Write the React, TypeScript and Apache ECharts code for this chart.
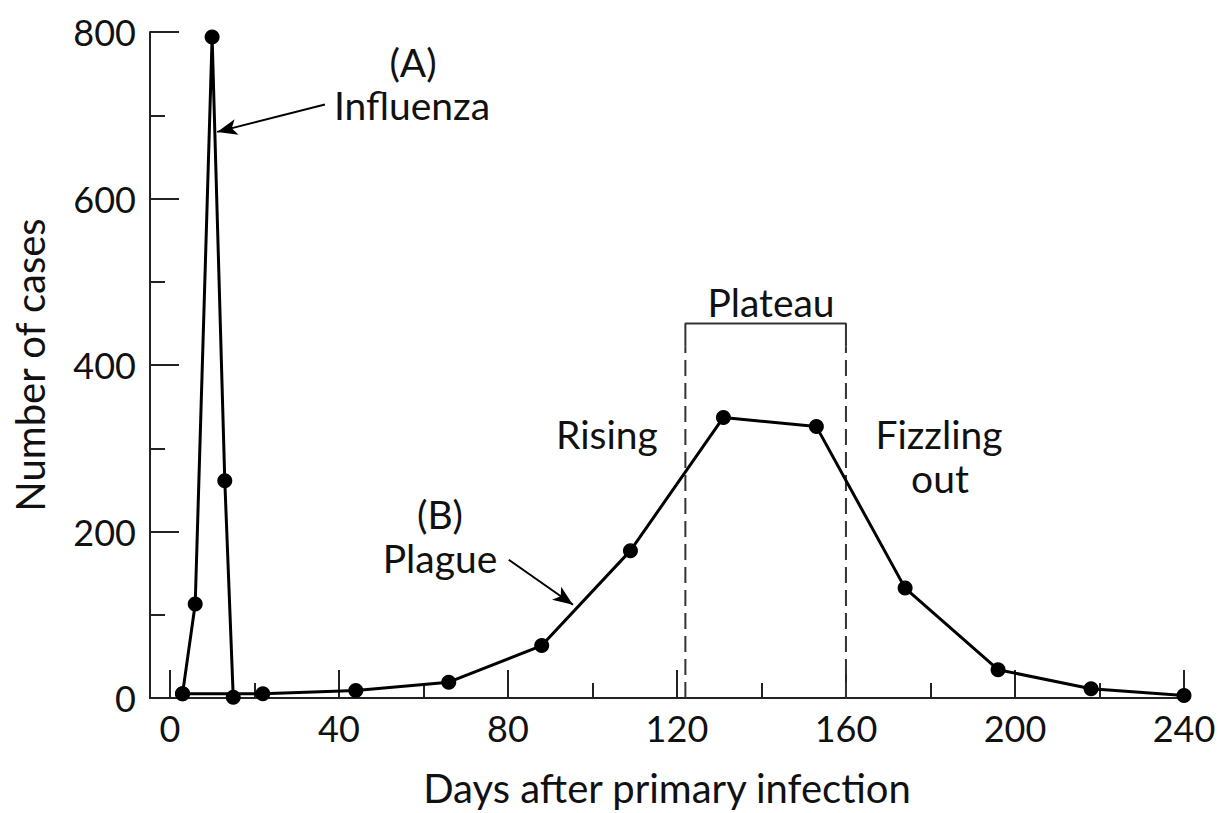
import React, { useEffect, useRef } from "react";
import * as echarts from "echarts";

const FONT = "Lato";

const fluDays = [3, 6, 10, 13, 15];
const fluCases = [5, 113, 794, 261, 1];

const plagueDays = [3, 22, 44, 66, 88, 109, 131, 153, 174, 196, 218, 240];
const plagueCases = [5, 5, 9, 19, 63, 177, 337, 326, 132, 34, 11, 3];

const xMajorTicks = [0, 40, 80, 120, 160, 200, 240];
const xMinorTicks = [20, 60, 100, 140, 180, 220];
const yMajorTicks = [0, 200, 400, 600, 800];
const yMinorTicks = [100, 300, 500, 700];

const plateauStart = 122;
const plateauEnd = 160;
const plateauTop = 450;
const plateauSolidFrom = 422;

const fluArrow = { from: [36.7, 713], to: [11.2, 680] };
const plagueArrow = { from: [80.2, 166], to: [95.4, 112] };

export default function App() {
  const ref = useRef<HTMLDivElement>(null);
  useEffect(() => {
    document.body.style.margin = "0";
    const chart = echarts.init(ref.current!, null, { renderer: "svg" });
    const axisColor = "#222";
    const textStyle = { fontFamily: FONT, color: "#111" };
    const annotation = (text: string, x: number, y: number, size = 39) => ({
      type: "text",
      x,
      y,
      style: {
        text,
        fontFamily: FONT,
        fontSize: size,
        fill: "#111",
        align: "center",
        verticalAlign: "middle",
      },
    });
    const tickAxis = (values: number[], len: number, max: number, min: number, pos: string) => ({
      type: "value",
      min,
      max,
      position: pos,
      axisLine: { show: false, onZero: false },
      axisTick: {
        show: true,
        inside: true,
        length: len,
        customValues: values,
        lineStyle: { color: axisColor, width: 2 },
      },
      axisLabel: { show: false },
      splitLine: { show: false },
    });
    chart.setOption({
      animation: false,
      backgroundColor: "#fff",
      grid: { left: 150, right: 41, top: 32, bottom: 107 },
      xAxis: [
        {
          type: "value",
          min: -4.7,
          max: 240,
          axisLine: { show: true, onZero: false, lineStyle: { color: axisColor, width: 2 } },
          axisTick: {
            show: true,
            inside: true,
            length: 28,
            customValues: xMajorTicks,
            lineStyle: { color: axisColor, width: 2 },
          },
          axisLabel: {
            customValues: xMajorTicks,
            fontSize: 36,
            margin: 12,
            ...textStyle,
          },
          splitLine: { show: false },
          name: "Days after primary infection",
          nameLocation: "middle",
          nameGap: 70,
          nameTextStyle: { fontSize: 40, ...textStyle },
        },
        tickAxis(xMinorTicks, 15, 240, -4.7, "bottom"),
      ],
      yAxis: [
        {
          type: "value",
          min: 0,
          max: 800,
          interval: 200,
          axisLine: { show: true, onZero: false, lineStyle: { color: axisColor, width: 2 } },
          axisTick: { show: false },
          axisLabel: { fontSize: 36, margin: 14, ...textStyle },
          splitLine: { show: false },
          name: "Number of cases",
          nameLocation: "middle",
          nameGap: 100,
          nameRotate: 90,
          nameTextStyle: { fontSize: 40, ...textStyle },
        },
        tickAxis(yMajorTicks, 29, 800, 0, "left"),
        tickAxis(yMinorTicks, 15, 800, 0, "left"),
      ],
      series: [
        {
          type: "line",
          name: "Influenza",
          data: fluDays.map((d, i) => [d, fluCases[i]]),
          symbol: "circle",
          symbolSize: 15,
          itemStyle: { color: "#000" },
          lineStyle: { color: "#000", width: 3 },
          z: 5,
          markLine: {
            silent: true,
            symbol: ["none", "arrow"],
            symbolSize: [12, 20],
            label: { show: false },
            lineStyle: { color: "#000", width: 2, type: "solid" },
            data: [
              [{ coord: fluArrow.from }, { coord: fluArrow.to }],
              [{ coord: plagueArrow.from }, { coord: plagueArrow.to }],
            ],
          },
        },
        {
          type: "line",
          name: "Plague",
          data: plagueDays.map((d, i) => [d, plagueCases[i]]),
          symbol: "circle",
          symbolSize: 15,
          itemStyle: { color: "#000" },
          lineStyle: { color: "#000", width: 3 },
          z: 5,
        },
        {
          type: "line",
          data: [
            [plateauStart, plateauSolidFrom],
            [plateauStart, plateauTop],
            [plateauEnd, plateauTop],
            [plateauEnd, plateauSolidFrom],
          ],
          symbol: "none",
          lineStyle: { color: "#333", width: 2 },
          silent: true,
        },
        {
          type: "line",
          data: [
            [plateauStart, 0],
            [plateauStart, plateauSolidFrom],
          ],
          symbol: "none",
          lineStyle: { color: "#333", width: 2, type: [16, 7] },
          silent: true,
        },
        {
          type: "line",
          data: [
            [plateauEnd, 0],
            [plateauEnd, plateauSolidFrom],
          ],
          symbol: "none",
          lineStyle: { color: "#333", width: 2, type: [16, 7] },
          silent: true,
        },
      ],
      graphic: [
        annotation("(A)", 413, 62),
        annotation("Influenza", 412, 105),
        annotation("(B)", 440, 514),
        annotation("Plague", 440, 558),
        annotation("Plateau", 771, 302),
        annotation("Rising", 607, 434),
        annotation("Fizzling", 939, 434),
        annotation("out", 940, 478),
      ],
    });
    return () => chart.dispose();
  }, []);
  return <div ref={ref} style={{ width: 1225, height: 813 }} />;
}
